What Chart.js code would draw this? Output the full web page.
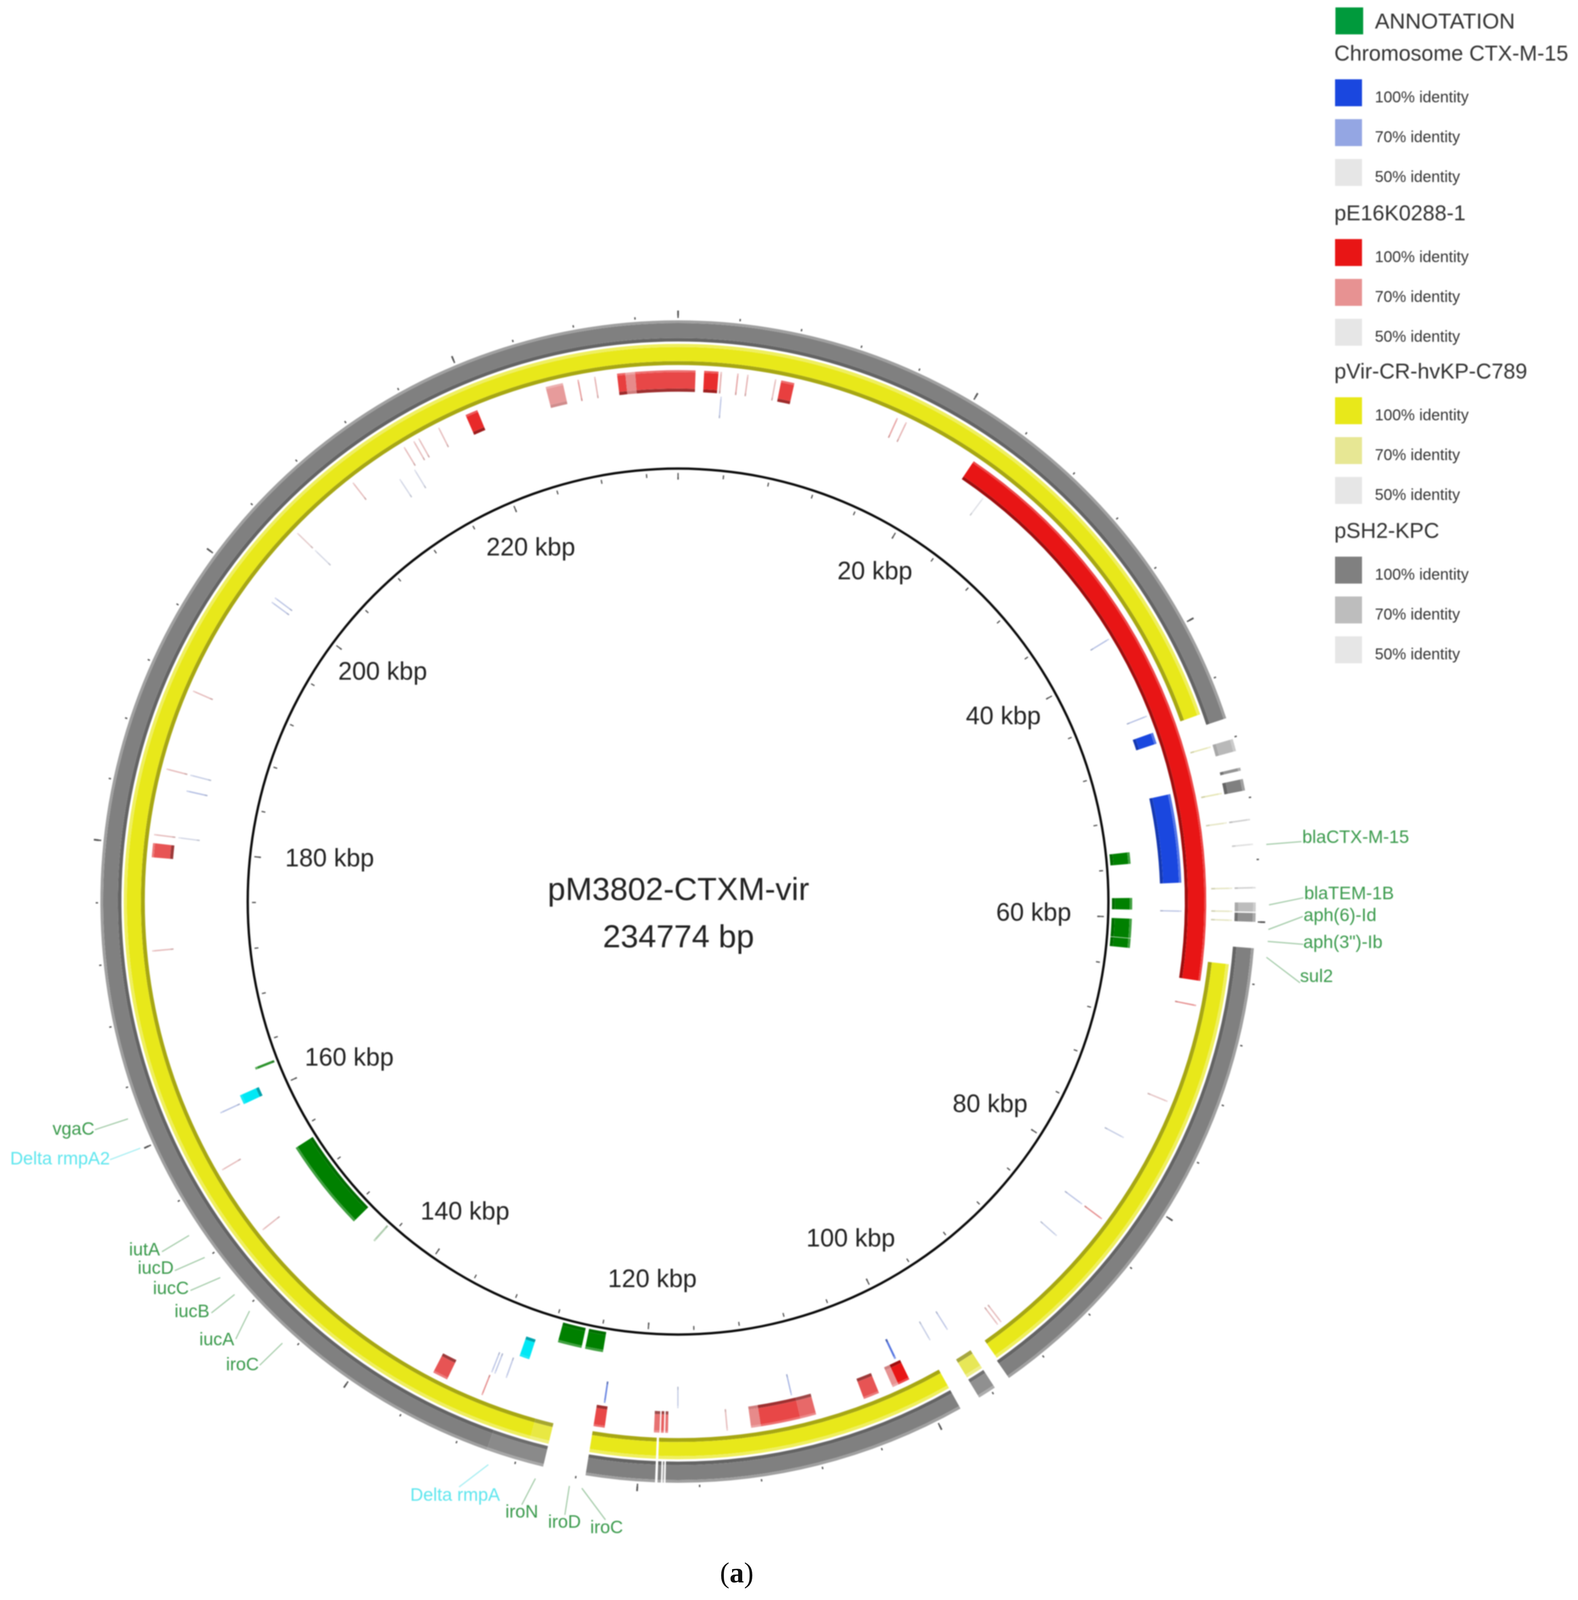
<!DOCTYPE html>
<html>
<head>
<meta charset="utf-8">
<title>pM3802-CTXM-vir</title>
<script src="https://cdn.jsdelivr.net/npm/chart.js@4"></script>
<style>
    body { margin: 0; background: #fff; position: relative; }
    canvas { display: block; filter: blur(1.6px); }
    #caption { position: absolute; left: 1843px; top: 3980px; font: 74px 'Liberation Serif', serif; line-height: 92px; color: #111; }
</style>
</head>
<body>
<canvas id="plasmidMap" width="4040" height="4104"></canvas>
<div id="caption">(<b>a</b>)</div>
<script>
// Values: every hit is [start kbp, end kbp, identity %]
const genomeLength = 234.774;
const plasmidName = "pM3802-CTXM-vir";
const plasmidSize = "234774 bp";

const tickStep = 4;
const majorTickStep = 20;
const tickLabels = [20, 40, 60, 80, 100, 120, 140, 160, 180, 200, 220];

const pSH2Hits = [
    [0, 46.7, 100], [48.1, 48.9, 72], [50.0, 50.2, 90], [50.75, 51.5, 100], [53.35, 53.45, 62],
    [54.95, 55.05, 54], [57.75, 57.85, 60], [58.75, 59.35, 70], [59.43, 60.0, 92], [61.7, 94.6, 100],
    [95.7, 96.9, 92], [98.3, 118.2, 100], [118.3, 118.4, 80], [118.5, 118.72, 100], [118.88, 123.4, 100],
    [126.2, 130, 95], [130, 234.774, 100]
];
const pVirHits = [
    [0, 45.9, 100], [48.15, 48.25, 62], [51.35, 51.45, 62], [53.35, 53.45, 58], [57.75, 57.85, 58],
    [59.3, 59.4, 58], [59.9, 60.0, 58], [62.9, 94.5, 100], [95.7, 96.9, 85], [98.3, 118.72, 100],
    [118.88, 123.4, 100], [126.2, 127.5, 90], [127.5, 234.774, 100]
];
const pE16Hits = [
    [0, 1.24, 88], [1.85, 2.87, 94], [3.0, 3.12, 62], [4.2, 4.3, 65], [4.91, 5.01, 62],
    [6.9, 7.0, 60], [7.35, 8.3, 90], [15.95, 16.05, 66], [16.65, 16.75, 62], [22.2, 64.3, 100],
    [66.0, 66.1, 70], [73.05, 73.15, 58], [82.55, 82.65, 70], [92.75, 92.85, 60], [93.05, 93.15, 60],
    [100.45, 101.3, 100], [101.3, 101.75, 70], [102.8, 103.95, 85], [107.5, 108.65, 80], [108.65, 111.5, 88],
    [111.5, 112.2, 72], [113.85, 113.95, 60], [118.1, 118.3, 78], [118.4, 118.6, 82], [118.7, 119.1, 78],
    [122.6, 123.4, 88], [131.55, 131.65, 70], [134.3, 135.4, 85], [151.15, 151.25, 60], [156.25, 156.35, 60],
    [172.55, 172.65, 60], [179.2, 180.2, 85], [180.75, 180.85, 60], [185.45, 185.55, 60], [191.25, 191.35, 60],
    [204.65, 204.75, 56], [209.95, 210.05, 60], [214.35, 214.45, 60], [215.15, 215.25, 60], [215.55, 215.65, 60],
    [217.15, 217.25, 60], [219.3, 220.2, 95], [225.3, 226.55, 68], [227.6, 227.7, 68], [228.8, 228.9, 62],
    [230.44, 231.03, 90], [231.03, 231.73, 72], [231.73, 234.774, 88]
];
const chromosomeHits = [
    [3.15, 3.25, 60], [24.25, 24.35, 52], [38.3, 38.4, 62], [44.65, 44.75, 62], [46.0, 46.85, 100],
    [50.7, 57.3, 100], [59.35, 59.45, 60], [76.75, 76.85, 58], [82.55, 82.65, 60], [85.55, 85.65, 58],
    [96.25, 96.35, 60], [97.75, 97.85, 58], [100.65, 100.8, 85], [108.85, 108.95, 65], [117.35, 117.45, 58],
    [122.8, 122.92, 80], [130.35, 130.45, 60], [131.25, 131.35, 60], [131.5, 131.6, 60], [159.95, 160.05, 62],
    [180.75, 180.85, 55], [184.25, 184.35, 62], [185.45, 185.55, 58], [199.65, 199.75, 60], [200.05, 200.15, 60],
    [204.65, 204.75, 54], [212.85, 212.95, 55], [214.15, 214.25, 55]
];
const rmpFeatures = [[129.2, 130.0, 100], [159.85, 160.6, 100]];
const geneFeatures = [
    [54.65, 55.6, 100], [58.4, 59.35, 100], [60.1, 61.68, 100], [61.72, 62.5, 100], [123.6, 125.1, 100],
    [125.4, 127.4, 100], [144.72, 144.88, 62], [147.1, 154.8, 100], [162.0, 162.2, 90]
];

const geneNames = ["blaCTX-M-15", "blaTEM-1B", "aph(6)-Id", 'aph(3")-Ib', "sul2", "vgaC", "Delta rmpA2", "iutA", "iucD",
    "iucC", "iucB", "iucA", "iroC", "Delta rmpA", "iroN", "iroD", "iroC"];
const geneKbp = [55.1, 58.9, 60.45, 61.2, 62.2, 162.1, 160.1, 153.8, 152.1, 150.5, 149.1, 147.7, 144.8, 129.6, 126.5, 124.3, 123.5];

const legendGroups = ["Chromosome CTX-M-15", "pE16K0288-1", "pVir-CR-hvKP-C789", "pSH2-KPC"];
const legendLevels = [100, 70, 50];

// ---- layout and styles ----
const centerX = 1736, centerY = 2308, outerRadius = 1507;
const textShiftX = 2; // text was placed against a center 2px to the right of the rings
const squashX = 0.998, squashY = 1.004; // the source map is very slightly oval
const trackColors = { blue: "#1a47df", red: "#e81515", yellow: "#e8e81a", gray: "#808080", green: "#008000", cyan: "#00e8f5", legendGreen: "#009a3c" };
const fontFamily = "'Liberation Sans', Arial, sans-serif";
const labelRadius = { 20: 980, 40: 956, 60: 909, 80: 956, 100: 974, 120: 972, 140: 966, 160: 934, 180: 902, 200: 958, 220: 979 };
const labelNudge = { 20: [2, 0], 40: [-8, -13], 60: [0, 0], 80: [-8, 5], 100: [3, -5], 120: [0, 0], 140: [2, 2], 160: [5, 13], 180: [3, -13], 200: [10, -13], 220: [-2, 0] };
const leaderRadius = 1516;
// line end offset from the leader start, text align, text offset from the line end
const calloutLayout = [
    [85, -8, "left", 2, -9], [83, -18, "left", 2, -9], [83, -33, "left", 2, -1], [86, 8, "left", 0, -3], [81, 66, "left", 0, -15],
    [-84, 30, "right", -1, 0], [-77, 32, "right", 0, 0], [-69, 45, "right", -5, -3], [-76, 37, "right", -3, -4],
    [-76, 37, "right", -4, -3], [-59, 51, "right", -5, -2], [-35, 76, "right", -4, 3], [-58, 61, "right", -2, 0],
    [-76, 63, "center", -10, 23], [-36, 73, "center", 0, 20], [-13, 80, "center", -1, 20], [59, 87, "center", 3, 22]
];

function hexToRgb(hex) {
    return [1, 3, 5].map(i => parseInt(hex.substr(i, 2), 16));
}

// BRIG style ramp: 100% is the full colour, 50% is light gray
function identityColor(base, identity) {
    const t = (identity - 50) / 50;
    return hexToRgb(base).map(c => Math.round(230 + (c - 230) * t));
}

function shade(rgb, factor) {
    const out = factor < 1 ? rgb.map(c => c * factor) : rgb.map(c => c + (255 - c) * (factor - 1));
    return `rgb(${out.map(Math.round).join(",")})`;
}

// Turn a list of hits into the gap/arc slices of one doughnut ring
function ring(hits, weight, colorOf) {
    const data = [], backgroundColor = [];
    let pos = 0;
    hits.forEach(([start, end, identity]) => {
        if (start > pos) {
            data.push(start - pos);
            backgroundColor.push("rgba(0,0,0,0)");
        }
        data.push(end - start);
        backgroundColor.push(colorOf(identity));
        pos = end;
    });
    if (pos < genomeLength) {
        data.push(genomeLength - pos);
        backgroundColor.push("rgba(0,0,0,0)");
    }
    return { data, backgroundColor, weight, borderWidth: 0 };
}

function spacer(weight) {
    return ring([], weight, () => "");
}

// One track = thin light outer band, body, darker inner band (weak hits stay pale)
function track(hits, base, [outerBand, body, innerBand], lift = 1.22, dark = 0.68) {
    return [
        ring(hits, outerBand, id => shade(identityColor(base, id), lift)),
        ring(hits, body, id => shade(identityColor(base, id), 1)),
        ring(hits, innerBand, id => shade(identityColor(base, id), id < 75 ? 0.9 : dark))
    ];
}

function tickHits(step, width) {
    const hits = [[0, width / 2, 100]];
    for (let k = step; k < genomeLength; k += step) {
        hits.push([k - width / 2, k + width / 2, 100]);
    }
    hits.push([genomeLength - width / 2, genomeLength, 100]);
    return hits;
}

const tickColor = () => "#555";

const datasets = [
    ring(tickHits(majorTickStep, 0.11), 13, tickColor),          // 1507-1494
    ring(tickHits(tickStep, 0.09), 6, tickColor),                // 1494-1488
    spacer(6),
    ...track(pSH2Hits, trackColors.gray, [7, 38, 9], 1.25, 0.78), // 1482-1428
    spacer(6),
    ...track(pVirHits, trackColors.yellow, [8, 36, 10], 1.3, 0.72), // 1422-1368
    spacer(13),
    ...track(pE16Hits, trackColors.red, [5, 42, 8]),             // 1355-1300
    spacer(8),
    ...track(chromosomeHits, trackColors.blue, [6, 41, 8], 1.25, 0.8), // 1292-1237
    spacer(9),
    ...track(rmpFeatures, trackColors.cyan, [5, 40, 8], 1.1, 0.7), // 1228-1175
    spacer(10),
    ...track(geneFeatures, trackColors.green, [6, 38, 8], 1.25, 0.85), // 1165-1113
    spacer(6),
    ring([[0, genomeLength, 100]], 6, () => "#0b0b0b"),          // backbone 1107-1101
    spacer(8),
    ring(tickHits(tickStep, 0.11), 10, tickColor),               // 1093-1083
    ring(tickHits(majorTickStep, 0.13), 7, tickColor),           // 1083-1076
    spacer(1076)
];

function polar(meta, kbp, radius) {
    const angle = kbp / genomeLength * 2 * Math.PI;
    return { x: meta.x + radius * Math.sin(angle), y: meta.y - radius * Math.cos(angle) };
}

function drawText(ctx, text, x, y, size, color, align) {
    ctx.font = `${size}px ${fontFamily}`;
    ctx.fillStyle = color;
    ctx.textAlign = align || "left";
    ctx.textBaseline = "middle";
    ctx.fillText(text, x, y);
}

function drawLegend(ctx) {
    const swatchX = 3418, swatchSize = 69, textX = 3520;
    ctx.fillStyle = trackColors.legendGreen;
    ctx.fillRect(swatchX + 1, 19, swatchSize + 2, swatchSize);
    drawText(ctx, "ANNOTATION", textX, 58, 56, "#333");
    const headingY = [140, 549, 954, 1362];
    const groupColor = [trackColors.blue, trackColors.red, trackColors.yellow, trackColors.gray];
    legendGroups.forEach((group, g) => {
        drawText(ctx, group, 3416, headingY[g], 55, "#333");
        legendLevels.forEach((level, l) => {
            const rowY = headingY[g] + 111 + l * 102;
            ctx.fillStyle = shade(identityColor(groupColor[g], level), 1);
            ctx.fillRect(swatchX, rowY - 48, swatchSize, swatchSize);
            drawText(ctx, `${level}% identity`, textX, rowY, 40, "#333");
        });
    });
}

// Draw the rings slightly oval; text stays undistorted
const ovalRings = {
    id: "ovalRings",
    beforeDatasetsDraw(chart) {
        const ctx = chart.ctx;
        const meta = chart.getDatasetMeta(0).data[0];
        ctx.save();
        ctx.translate(meta.x, meta.y);
        ctx.scale(squashX, squashY);
        ctx.translate(-meta.x, -meta.y);
    },
    afterDatasetsDraw(chart) {
        chart.ctx.restore();
    }
};

const mapLabels = {
    id: "mapLabels",
    afterDraw(chart) {
        const ctx = chart.ctx;
        const meta = chart.getDatasetMeta(0).data[0];
        ctx.save();

        drawText(ctx, plasmidName, meta.x + textShiftX - 1, 2281, 82, "#222", "center");
        drawText(ctx, plasmidSize, meta.x + textShiftX - 1, 2402, 82, "#222", "center");

        tickLabels.forEach(kbp => {
            const p = polar(meta, kbp, labelRadius[kbp]);
            const [nx, ny] = labelNudge[kbp];
            drawText(ctx, `${kbp} kbp`, p.x + textShiftX + nx, p.y + ny, 64, "#222", "center");
        });

        geneNames.forEach((name, i) => {
            const [lx, ly, align, tx, ty] = calloutLayout[i];
            const isCyan = name.startsWith("Delta");
            const anchor = polar(meta, geneKbp[i], leaderRadius);
            const endX = anchor.x + textShiftX + lx, endY = anchor.y + ly;
            ctx.beginPath();
            ctx.moveTo(meta.x + (anchor.x - meta.x) * squashX, meta.y + (anchor.y - meta.y) * squashY);
            ctx.lineTo(endX, endY);
            ctx.strokeStyle = isCyan ? "#a5eef2" : "#a3cba8";
            ctx.lineWidth = 3;
            ctx.stroke();
            drawText(ctx, name, endX + tx, endY + ty, 46, isCyan ? "#5fe6ee" : "#3a9a4c", align);
        });

        drawLegend(ctx);
        ctx.restore();
    }
};

new Chart(document.getElementById("plasmidMap"), {
    type: "doughnut",
    data: { datasets },
    options: {
        responsive: false,
        animation: false,
        devicePixelRatio: 1,
        cutout: 0,
        events: [],
        layout: {
            padding: {
                left: centerX - outerRadius,
                right: 4040 - centerX - outerRadius,
                top: centerY - outerRadius,
                bottom: 4104 - centerY - outerRadius
            }
        },
        plugins: { legend: { display: false }, tooltip: { enabled: false } }
    },
    plugins: [ovalRings, mapLabels]
});
</script>
</body>
</html>
